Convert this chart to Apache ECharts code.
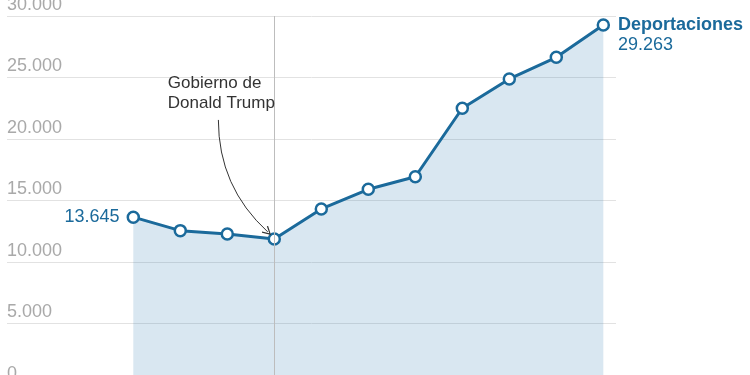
<!DOCTYPE html>
<html>
<head>
<meta charset="utf-8">
<script src="https://cdn.jsdelivr.net/npm/echarts@6/dist/echarts.min.js"></script>
<style>html,body{margin:0;padding:0;background:#fff}#main{width:750px;height:375px}</style>
</head>
<body>
<div id="main"></div>
<script>
// Data
var categories = ['oct 2024','nov 2024','dic 2024','ene 2025','feb 2025','mar 2025','abr 2025','may 2025','jun 2025','jul 2025','ago 2025'];
var deportaciones = [13645, 12550, 12280, 11870, 14310, 15910, 16930, 22500, 24880, 26640, 29263];
var yTicks = [0, 5000, 10000, 15000, 20000, 25000, 30000];
var seriesName = 'Deportaciones';
var trumpIndex = 3;
var annotationText = 'Gobierno de\nDonald Trump';
var arrowFrom = [1.81, 21550];
var arrowTo = [2.86, 12450];

var BLUE = '#1b6a9b';
function fmt(n){ return String(n).replace(/\B(?=(\d{3})+(?!\d))/g, '.'); }

var chevron = 'path://M5,0 L10,9 L9,10 L5,2.6 L1,10 L0,9 Z';

var seriesData = deportaciones.map(function(v, i){
  var item = { value: [i, v], name: categories[i] };
  if (i === 0) {
    item.label = { show: true, position: 'left', distance: 7, formatter: fmt(v), color: BLUE, fontSize: 18, fontFamily: 'Liberation Sans' };
  }
  if (i === deportaciones.length - 1) {
    item.label = {
      show: true, position: 'right', distance: 8, offset: [0, 10],
      formatter: '{a|' + seriesName + '}\n{b|' + fmt(v) + '}',
      rich: {
        a: { fontWeight: 'bold', fontSize: 18, color: BLUE, lineHeight: 20, fontFamily: 'Liberation Sans' },
        b: { fontSize: 18, color: BLUE, lineHeight: 20, fontFamily: 'Liberation Sans' }
      }
    };
  }
  return item;
});

var chart = echarts.init(document.getElementById('main'), null, { renderer: 'canvas' });
chart.setOption({
  animation: false,
  grid: { left: 7, right: 134, top: 16, height: 369, containLabel: false, outerBoundsMode: 'none' },
  xAxis: {
    type: 'value', min: -2.687, max: 10.27,
    show: false
  },
  yAxis: {
    type: 'value', min: yTicks[0], max: yTicks[yTicks.length - 1], interval: 5000,
    axisLine: { show: false }, axisTick: { show: false },
    splitLine: { show: true, lineStyle: { color: '#e2e2e2', width: 1 } },
    axisLabel: {
      inside: true, margin: 0, verticalAlign: 'bottom', align: 'left',
      padding: [0, 0, 2, 0],
      color: '#a9a9a9', fontSize: 18, fontFamily: 'Liberation Sans',
      formatter: function(v){ return fmt(v); }
    }
  },
  series: [{
    type: 'line',
    name: seriesName,
    data: seriesData,
    showAllSymbol: true,
    symbol: 'circle', symbolSize: 11,
    lineStyle: { color: BLUE, width: 3 },
    itemStyle: { color: '#fff', borderColor: BLUE, borderWidth: 2.5 },
    areaStyle: { color: '#2a7ab0', opacity: 0.18 },
    z: 3,
    markLine: {
      silent: true,
      animation: false,
      symbol: 'none',
      label: { show: false },
      lineStyle: { color: '#bdbdbd', width: 1, type: 'solid' },
      data: [
        [ { coord: [trumpIndex, yTicks[yTicks.length - 1]] }, { coord: [trumpIndex, yTicks[0]] } ]
      ]
    },
    markPoint: {
      silent: true,
      data: [{
        coord: [0.745, 25325],
        symbol: 'rect', symbolSize: 1,
        itemStyle: { color: 'rgba(0,0,0,0)' },
        label: {
          show: true, position: [0, 0], align: 'left', verticalAlign: 'top',
          formatter: annotationText, color: '#333', fontSize: 17, lineHeight: 20,
          fontFamily: 'Liberation Sans'
        }
      }]
    }
  }, {
    type: 'lines',
    name: 'flecha',
    coordinateSystem: 'cartesian2d',
    xAxisIndex: 0, yAxisIndex: 0,
    silent: true,
    symbol: ['none', chevron],
    symbolSize: 9,
    lineStyle: { color: '#333', width: 1, type: 'solid', curveness: -0.22, opacity: 1 },
    z: 4,
    data: [ { coords: [arrowFrom, arrowTo] } ]
  }]
});
</script>
</body>
</html>
